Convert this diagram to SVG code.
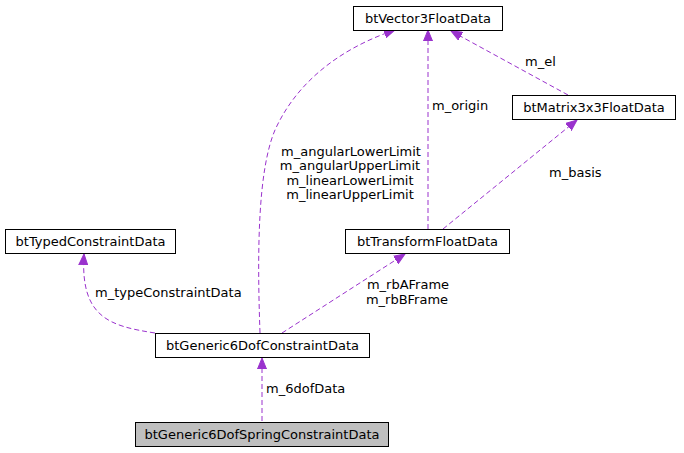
<svg xmlns="http://www.w3.org/2000/svg" width="684" height="453" viewBox="0 0 684 453">
<style>
text{font-family:"DejaVu Sans","Liberation Sans",sans-serif;font-size:13px;fill:#000}
.box{fill:#fff;stroke:#000;stroke-width:1}
.self{fill:#bfbfbf;stroke:#000;stroke-width:1}
.edge{fill:none;stroke:#9a32cd;stroke-width:1;stroke-dasharray:5,3}
.c{text-anchor:middle}
</style>
<defs>
<marker id="ah" markerUnits="userSpaceOnUse" markerWidth="12" markerHeight="10" viewBox="0 0 12 10" refX="11" refY="5" orient="auto">
<path d="M0,0.5 L11,5 L0,9.5 Z" fill="#9a32cd" stroke="#9a32cd"/>
</marker>
</defs>
<rect width="684" height="453" fill="#fff"/>
<g id="connectors">
<path class="edge" marker-end="url(#ah)" d="M262,421 L262,358"/>
<path class="edge" marker-end="url(#ah)" d="M155,333 C110,326 80,318 84,254"/>
<path class="edge" marker-end="url(#ah)" d="M260,333 C257,250 258,170 275,130 C300,75 350,45 395,30"/>
<path class="edge" marker-end="url(#ah)" d="M282,333 L405,254"/>
<path class="edge" marker-end="url(#ah)" d="M428,229 L428,30"/>
<path class="edge" marker-end="url(#ah)" d="M443,229 L577,120"/>
<path class="edge" marker-end="url(#ah)" d="M568,95 L451,31"/>
<text x="266" y="393">m_6dofData</text>
<text x="95" y="297">m_typeConstraintData</text>
<text class="c" x="351" y="156">m_angularLowerLimit</text>
<text class="c" x="350" y="170">m_angularUpperLimit</text>
<text class="c" x="350" y="185">m_linearLowerLimit</text>
<text class="c" x="350" y="199">m_linearUpperLimit</text>
<text class="c" x="408" y="289">m_rbAFrame</text>
<text class="c" x="407" y="304">m_rbBFrame</text>
<text x="432" y="110">m_origin</text>
<text x="549" y="177">m_basis</text>
<text x="525" y="66">m_el</text>
</g>
<g id="btVector3FloatData">
<rect class="box" x="353.5" y="6.5" width="149" height="24"/>
<text class="c" x="428" y="23">btVector3FloatData</text>
</g>
<g id="btMatrix3x3FloatData">
<rect class="box" x="512.5" y="95.5" width="163" height="24"/>
<text class="c" x="594" y="112">btMatrix3x3FloatData</text>
</g>
<g id="btTypedConstraintData">
<rect class="box" x="5.5" y="229.5" width="170" height="24"/>
<text class="c" x="90.5" y="246">btTypedConstraintData</text>
</g>
<g id="btTransformFloatData">
<rect class="box" x="345.5" y="229.5" width="164" height="24"/>
<text class="c" x="427.5" y="246">btTransformFloatData</text>
</g>
<g id="btGeneric6DofConstraintData">
<rect class="box" x="155.5" y="333.5" width="214" height="24"/>
<text class="c" x="262.5" y="350">btGeneric6DofConstraintData</text>
</g>
<g id="btGeneric6DofSpringConstraintData">
<rect class="self" x="135.5" y="422.5" width="253" height="24"/>
<text class="c" x="262" y="439">btGeneric6DofSpringConstraintData</text>
</g>
</svg>
